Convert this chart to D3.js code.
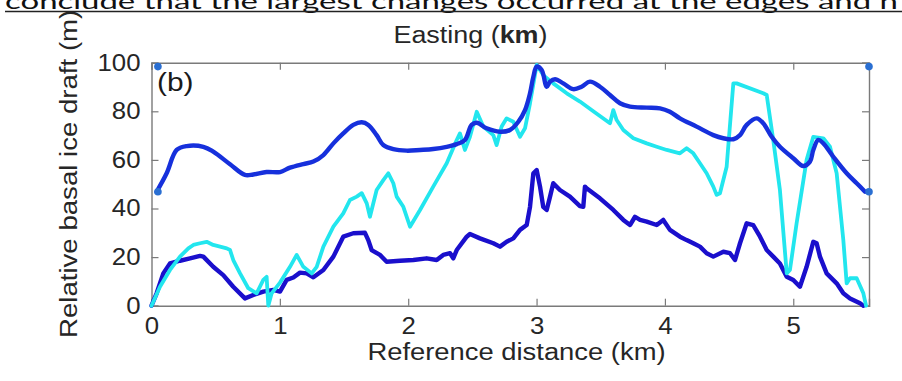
<!DOCTYPE html>
<html>
<head>
<meta charset="utf-8">
<script src="https://cdn.jsdelivr.net/npm/d3@7"></script>
<style>
  html, body { margin: 0; padding: 0; background: #fff; }
  svg { display: block; }
</style>
</head>
<body>
<svg id="chart" width="902" height="381"></svg>
<script>
// ---------- data (distance km, relative draft m) ----------
const xTickValues = [0, 1, 2, 3, 4, 5];
const yTickValues = [0, 20, 40, 60, 80, 100];

const upperSeries = [
  [0.040,46.9],[0.118,54.5],[0.196,64.1],[0.274,65.7],[0.404,65.4],[0.481,63.4],
  [0.612,58.2],[0.728,53.8],[0.793,54.0],[0.897,55.0],[1.001,55.0],[1.079,56.8],
  [1.183,58.3],[1.261,59.3],[1.339,62.0],[1.417,66.8],[1.494,70.9],[1.572,74.4],
  [1.638,75.5],[1.689,74.4],[1.754,70.2],[1.806,66.1],[1.884,64.4],[1.988,63.8],
  [2.092,64.1],[2.195,64.5],[2.300,65.4],[2.378,66.5],[2.442,68.2],[2.494,74.4],
  [2.534,75.3],[2.611,73.0],[2.715,71.6],[2.793,72.3],[2.858,75.7],[2.910,80.5],
  [2.949,87.4],[2.975,94.2],[3.001,98.4],[3.040,97.0],[3.079,90.1],[3.105,92.2],
  [3.144,93.2],[3.208,91.5],[3.286,89.1],[3.351,90.1],[3.416,92.2],[3.494,90.1],
  [3.572,86.7],[3.650,83.3],[3.728,81.9],[3.858,81.5],[3.962,81.2],[4.039,79.8],
  [4.117,77.1],[4.247,73.7],[4.377,70.2],[4.455,68.9],[4.533,68.5],[4.585,70.2],
  [4.637,74.4],[4.715,77.1],[4.766,75.1],[4.832,69.5],[4.896,65.4],[5.000,60.7],
  [5.078,57.5],[5.130,59.3],[5.156,64.1],[5.195,68.2],[5.234,66.8],[5.312,61.3],
  [5.416,54.5],[5.494,50.4],[5.559,46.9]
];

const cyanSeries = [
  [0.000,0.0],[0.066,7.8],[0.144,14.7],[0.222,20.2],[0.287,23.6],[0.326,25.0],
  [0.378,25.7],[0.430,26.3],[0.481,25.0],[0.534,24.3],[0.586,23.6],[0.612,22.9],
  [0.637,18.8],[0.690,13.3],[0.754,7.2],[0.819,5.1],[0.871,10.6],[0.897,11.9],
  [0.910,0.0],[0.936,5.1],[1.001,9.5],[1.079,16.0],[1.131,20.9],[1.183,16.0],
  [1.248,13.3],[1.287,16.0],[1.339,24.3],[1.417,32.5],[1.494,38.0],[1.546,43.5],
  [1.599,44.9],[1.638,46.3],[1.677,42.1],[1.702,36.6],[1.754,47.6],[1.806,51.7],
  [1.845,54.5],[1.884,50.4],[1.910,44.9],[1.962,40.7],[2.014,32.5],[2.092,39.4],
  [2.195,49.0],[2.300,58.6],[2.378,68.2],[2.403,70.9],[2.442,64.1],[2.481,69.5],
  [2.534,79.8],[2.585,73.7],[2.663,70.2],[2.689,66.1],[2.728,73.7],[2.767,77.1],
  [2.819,75.7],[2.871,69.5],[2.910,73.0],[2.949,83.3],[3.001,99.1],[3.052,94.9],
  [3.130,91.5],[3.235,87.4],[3.338,84.0],[3.442,80.0],[3.572,75.1],[3.598,80.5],
  [3.624,76.4],[3.676,72.3],[3.754,68.9],[3.858,66.8],[3.936,65.4],[4.014,64.1],
  [4.117,62.7],[4.169,64.8],[4.221,62.7],[4.273,58.6],[4.325,54.5],[4.377,49.0],
  [4.403,45.6],[4.429,46.3],[4.481,57.2],[4.533,91.5],[4.559,91.5],[4.766,87.4],
  [4.793,86.7],[4.844,68.2],[4.896,47.6],[4.949,13.3],[4.974,14.7],[5.026,33.9],
  [5.104,60.0],[5.156,69.5],[5.234,68.9],[5.286,65.4],[5.338,54.5],[5.390,27.0],
  [5.416,9.2],[5.442,11.3],[5.494,11.3],[5.546,5.1],[5.567,0.0]
];

const lowerSeries = [
  [0.000,0.0],[0.040,5.1],[0.092,13.3],[0.144,17.4],[0.222,18.5],[0.300,19.5],
  [0.378,20.5],[0.404,20.2],[0.481,16.0],[0.559,12.6],[0.637,7.8],[0.728,3.0],
  [0.793,4.4],[0.871,5.8],[0.949,6.5],[1.001,5.8],[1.053,10.6],[1.105,11.6],
  [1.157,13.6],[1.209,13.3],[1.261,11.7],[1.339,14.7],[1.417,20.2],[1.494,28.4],
  [1.572,29.8],[1.663,30.0],[1.689,27.0],[1.715,22.9],[1.780,20.9],[1.832,18.1],
  [1.936,18.5],[2.040,18.8],[2.144,19.5],[2.222,18.8],[2.273,20.9],[2.326,21.6],
  [2.351,19.5],[2.378,22.9],[2.456,28.4],[2.481,29.5],[2.559,27.7],[2.663,25.7],
  [2.715,24.3],[2.767,26.3],[2.819,27.7],[2.871,31.2],[2.923,33.2],[2.949,40.7],
  [2.975,54.5],[3.001,55.8],[3.027,49.0],[3.052,40.7],[3.079,39.4],[3.105,44.9],
  [3.130,50.4],[3.182,47.6],[3.260,44.9],[3.338,41.0],[3.364,40.7],[3.377,49.0],
  [3.390,48.3],[3.494,44.2],[3.598,39.4],[3.676,35.3],[3.728,33.2],[3.767,36.6],
  [3.806,35.3],[3.858,34.6],[3.936,33.2],[3.987,35.3],[4.039,31.2],[4.117,28.4],
  [4.169,27.0],[4.221,25.7],[4.273,24.3],[4.325,21.6],[4.377,20.2],[4.455,22.2],
  [4.507,21.6],[4.546,18.8],[4.585,25.7],[4.637,33.9],[4.688,33.2],[4.741,28.4],
  [4.793,22.9],[4.844,20.2],[4.896,17.4],[4.949,11.9],[5.000,10.6],[5.052,7.8],
  [5.104,16.0],[5.156,26.3],[5.182,25.7],[5.208,20.2],[5.260,13.3],[5.338,9.2],
  [5.390,5.1],[5.442,3.0],[5.520,1.0],[5.546,0.0]
];

const markerPoints = [[0.05,98.4],[0.05,46.9],[5.59,98.4],[5.59,46.9]];

const xDomain = [0, 5.59];
const yDomain = [0, 100];

const topAxisTitle = "Easting";
const xAxisTitle = "Reference distance (km)";
const yAxisTitle = "Relative basal ice draft (m)";
const panelLabel = "(b)";
const pageText = "conclude that the largest changes occurred at the edges and n";

// ---------- layout ----------
const svg = d3.select("#chart");
const L = 151.5, R = 869, T = 62.7, B = 305.7;
const x = d3.scaleLinear().domain(xDomain).range([L, R]);
const y = d3.scaleLinear().domain(yDomain).range([B, T]);
const STRETCH = 1.19;
const FONT = "Liberation Sans, Arial, Helvetica, sans-serif";
const axisColor = "#7a7a7a";
const textColor = "#262626";

function stretch(sel, f) {
  sel.each(function() {
    const len = this.getComputedTextLength();
    d3.select(this).attr("textLength", len * (f || STRETCH)).attr("lengthAdjust", "spacingAndGlyphs");
  });
  return sel;
}

// ---------- axes (box with inward ticks) ----------
const tickLen = 7;
const axB = svg.append("g").attr("transform", `translate(0,${B})`)
  .call(d3.axisBottom(x).tickValues(xTickValues).tickSize(-tickLen).tickPadding(12).tickFormat(d3.format("d")));
const axT = svg.append("g").attr("transform", `translate(0,${T})`)
  .call(d3.axisTop(x).tickValues(xTickValues).tickSize(-tickLen).tickFormat(""));
const axL = svg.append("g").attr("transform", `translate(${L},0)`)
  .call(d3.axisLeft(y).tickValues(yTickValues).tickSize(-tickLen).tickPadding(12).tickFormat(d3.format("d")));
const axR = svg.append("g").attr("transform", `translate(${R},0)`)
  .call(d3.axisRight(y).tickValues(yTickValues).tickSize(-tickLen).tickFormat(""));

[axB, axT, axL, axR].forEach(a => {
  a.select(".domain").attr("stroke", axisColor).attr("stroke-width", 1.4);
  a.selectAll(".tick line").attr("stroke", axisColor).attr("stroke-width", 1.2);
  a.selectAll(".tick text").attr("fill", textColor).style("font-family", FONT).style("font-size", "23px");
});
axB.selectAll(".tick text").attr("dy", "0.71em");
stretch(axB.selectAll(".tick text"), 1.12);
stretch(axL.selectAll(".tick text"), 1.12);
axL.selectAll(".tick text").attr("x", -11);

// ---------- lines ----------
const line = d3.line().x(d => x(d[0])).y(d => y(d[1]));
const smooth = d3.line().x(d => x(d[0])).y(d => y(d[1])).curve(d3.curveCatmullRom.alpha(0.5));

svg.append("path").datum(lowerSeries).attr("d", line)
  .attr("fill", "none").attr("stroke", "#1a0fcc").attr("stroke-width", 4.4)
  .attr("stroke-linejoin", "round").attr("stroke-linecap", "round");
svg.append("path").datum(cyanSeries).attr("d", line)
  .attr("fill", "none").attr("stroke", "#22e6ee").attr("stroke-width", 3.8)
  .attr("stroke-linejoin", "round").attr("stroke-linecap", "round");
svg.append("path").datum(upperSeries).attr("d", smooth)
  .attr("fill", "none").attr("stroke", "#1630dc").attr("stroke-width", 4.4)
  .attr("stroke-linejoin", "round").attr("stroke-linecap", "round");

svg.selectAll("circle.marker").data(markerPoints).join("circle")
  .attr("class", "marker")
  .attr("cx", d => x(d[0])).attr("cy", d => y(d[1])).attr("r", 3.8)
  .attr("fill", "#2a6fd2");

// ---------- texts ----------
const pl = svg.append("text").attr("x", 157).attr("y", 91)
  .style("font-family", FONT).style("font-size", "26px").attr("fill", "#1a1a1a")
  .text(panelLabel);
stretch(pl, 1.15);

const tt = svg.append("text").attr("x", 470.5).attr("y", 43).attr("text-anchor", "middle")
  .style("font-family", FONT).style("font-size", "23px").attr("fill", textColor);
tt.append("tspan").text(topAxisTitle + " (");
tt.append("tspan").attr("font-weight", "bold").text("km");
tt.append("tspan").text(")");
stretch(tt, 1.17);

const xt = svg.append("text").attr("x", 516.5).attr("y", 360).attr("text-anchor", "middle")
  .style("font-family", FONT).style("font-size", "23px").attr("fill", textColor)
  .text(xAxisTitle);
stretch(xt);

const yt = svg.append("text").attr("transform", "translate(77,338) rotate(-90)")
  .attr("text-anchor", "start")
  .style("font-family", FONT).style("font-size", "23px").attr("fill", textColor)
  .text(yAxisTitle);
stretch(yt, 1.2);

// page strip above the figure
svg.append("rect").attr("x", 0).attr("y", 0).attr("width", 902).attr("height", 12).attr("fill", "#fff");
const pt = svg.append("text").attr("x", 5).attr("y", 8.5)
  .style("font-family", "Lato, 'Open Sans', sans-serif").style("font-size", "21px").attr("fill", "#111")
  .text(pageText);
pt.attr("textLength", 893).attr("lengthAdjust", "spacingAndGlyphs");
svg.append("line").attr("x1", 5).attr("x2", 902).attr("y1", 11.5).attr("y2", 11.5)
  .attr("stroke", "#222").attr("stroke-width", 1.3);
</script>
</body>
</html>
